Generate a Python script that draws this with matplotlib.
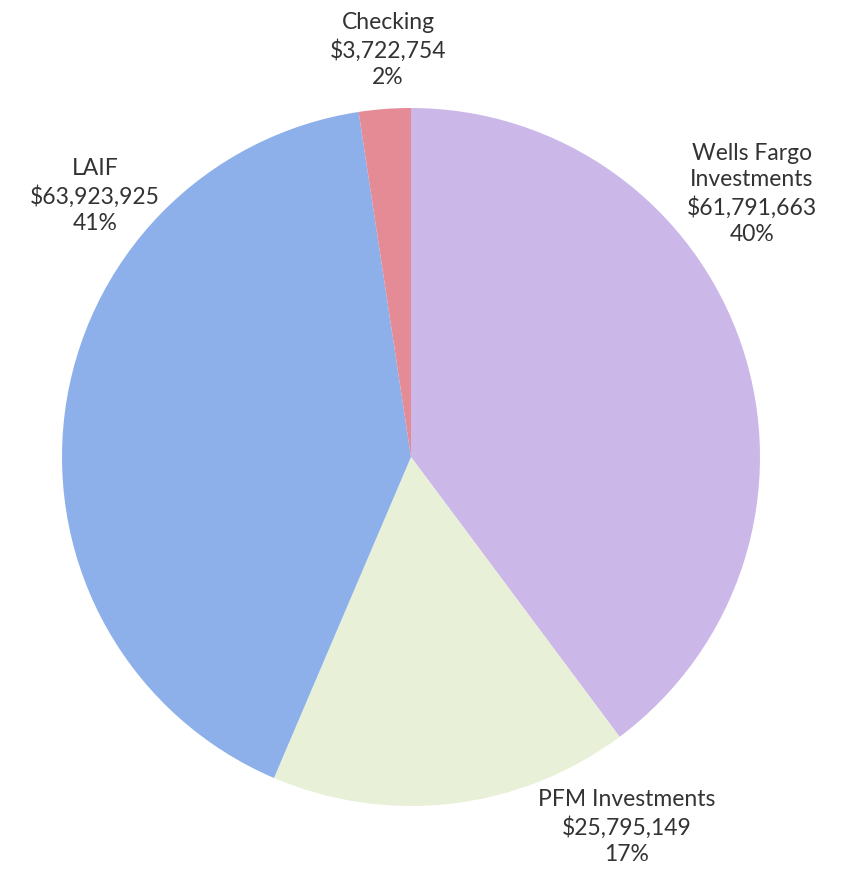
import matplotlib
matplotlib.use("Agg")
import matplotlib.pyplot as plt

# slices in clockwise order starting at 12 o'clock
names   = ["Wells Fargo\nInvestments", "PFM Investments", "LAIF", "Checking"]
amounts = [61791663, 25795149, 63923925, 3722754]
colors  = ["#cbb8e9", "#e8f0d8", "#8db0ea", "#e48b96"]

# label block centres in pixel space (x from left, y from top)
label_px = [(752, 194), (627, 827), (95, 196), (388, 50)]

W, H = 842, 871
fig = plt.figure(figsize=(W / 100, H / 100), dpi=100)
ax = fig.add_axes([0, 0, 1, 1])

cx, cy, r = 411, H - 457, 349
ax.pie(amounts, colors=colors, startangle=90, counterclock=False,
       center=(cx, cy), radius=r, frame=True,
       wedgeprops=dict(linewidth=0))
ax.set_xlim(0, W)
ax.set_ylim(0, H)
ax.set_aspect("equal")
ax.axis("off")

total = sum(amounts)
for name, amt, (lx, ly) in zip(names, amounts, label_px):
    pct = round(100 * amt / total)
    txt = f"{name}\n${amt:,}\n{pct}%"
    ax.text(lx, H - ly, txt, ha="center", va="center", fontsize=16.5,
            family="Lato", color="#333333", linespacing=1.3)

fig.savefig("out.png", dpi=100)
